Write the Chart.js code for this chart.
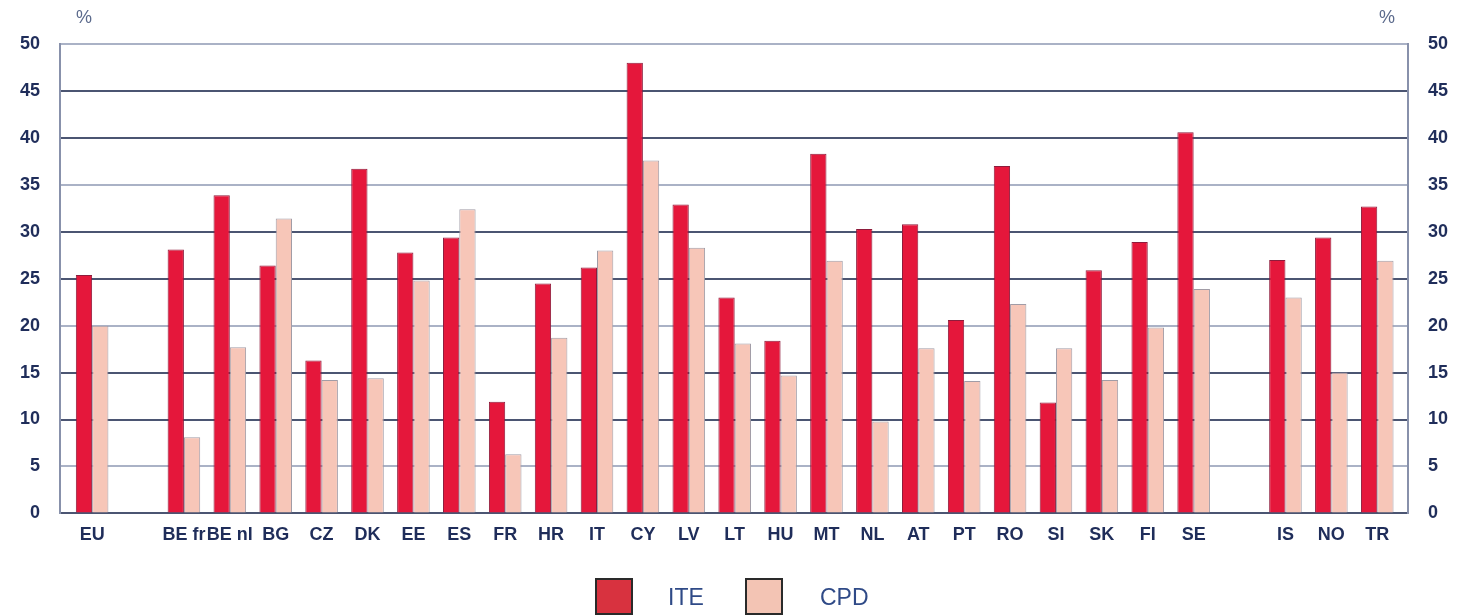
<!DOCTYPE html>
<html>
<head>
<meta charset="utf-8">
<script src="https://cdn.jsdelivr.net/npm/chart.js@4.4.1/dist/chart.umd.min.js"></script>
<style>
  html, body { margin: 0; padding: 0; background: #fff; overflow: hidden; }
  #wrap { position: relative; width: 1461px; height: 616px; }
  #wrap canvas { position: absolute; left: 0; top: 0; }
  .pct { position: absolute; top: 7px; font: 18px 'Liberation Sans', Arial, sans-serif; color: #5b6a8c; }
  .lg-box { position: absolute; top: 578px; width: 34px; height: 33px; border: 2px solid #2a2a2a; }
  .lg-txt { position: absolute; top: 584px; font: 23px 'Liberation Sans', Arial, sans-serif; color: #2f4a87; }
</style>
</head>
<body>
<div id="wrap">
  <canvas id="chart" width="1461" height="616"></canvas>
  <span class="pct" style="left:76px">%</span>
  <span class="pct" style="left:1379px">%</span>
  <div class="lg-box" style="left:595px; background:#d8323f"></div>
  <span class="lg-txt" style="left:668px">ITE</span>
  <div class="lg-box" style="left:745px; background:#f3c4b4"></div>
  <span class="lg-txt" style="left:820px">CPD</span>
</div>
<script>
// categories (empty strings are the gaps between groups)
const countries = ['EU', '', 'BE fr', 'BE nl', 'BG', 'CZ', 'DK', 'EE', 'ES', 'FR', 'HR', 'IT', 'CY', 'LV', 'LT', 'HU',
                   'MT', 'NL', 'AT', 'PT', 'RO', 'SI', 'SK', 'FI', 'SE', '', 'IS', 'NO', 'TR'];
const iteValues = [25.4, null, 28.1, 33.9, 26.4, 16.3, 36.7, 27.8, 29.4, 11.9, 24.5, 26.2, 48.0, 32.9, 23.0, 18.4,
                   38.3, 30.3, 30.8, 20.6, 37.0, 11.8, 25.9, 28.9, 40.6, null, 27.0, 29.4, 32.7];
const cpdValues = [20.0, null, 8.1, 17.7, 31.4, 14.2, 14.4, 24.8, 32.4, 6.3, 18.7, 28.0, 37.6, 28.3, 18.1, 14.7,
                   26.9, 9.8, 17.6, 14.1, 22.3, 17.6, 14.2, 19.8, 23.9, null, 23.0, 15.0, 26.9];
const yMin = 0, yMax = 50, yStep = 5;

const tickFont = { family: "'Liberation Sans', Arial, sans-serif", size: 18, weight: 'bold' };
const tickColor = '#1f2d5a';

// every third gridline (50, 35, 20, 5) is drawn lighter
const gridColor = (ctx) => {
    const v = ctx.tick ? ctx.tick.value : 0;
    return ((yMax - v) / yStep) % 3 === 0 && v !== 0 ? '#aab2c6' : '#4b5572';
};

// bars sit on a numeric x axis (index of the country) so the plot frame can be a bit wider than the bars
const toPoints = (arr) => arr.map((v, i) => ({ x: i, y: v }));

new Chart(document.getElementById('chart').getContext('2d'), {
    type: 'bar',
    data: {
        datasets: [
            { label: 'ITE', data: toPoints(iteValues), backgroundColor: '#e5173b', borderColor: '#8e1c3c', borderWidth: 1, yAxisID: 'y' },
            { label: 'CPD', data: toPoints(cpdValues), backgroundColor: '#f7c6b8', borderColor: '#a19ca6', borderWidth: 1, yAxisID: 'y' }
        ]
    },
    options: {
        responsive: false, animation: false, devicePixelRatio: 1,
        layout: { padding: { top: 44, left: 20, right: 13, bottom: 67 } },
        datasets: { bar: { categoryPercentage: 0.71, barPercentage: 1.0 } },
        scales: {
            x: {
                type: 'linear', min: -0.7, max: countries.length - 0.33, offset: false,
                afterBuildTicks: (scale) => { scale.ticks = countries.map((c, i) => ({ value: i })); },
                grid: { display: false },
                border: { display: true, color: '#4b5572', width: 2 },
                ticks: { color: tickColor, font: tickFont, padding: 3, autoSkip: false, maxRotation: 0,
                         callback: (v) => countries[v] }
            },
            y: {
                position: 'left', min: yMin, max: yMax,
                afterFit: (scale) => { scale.width = 40; },
                grid: { color: gridColor, lineWidth: 2, drawTicks: false },
                border: { display: true, color: '#8891ab', width: 2 },
                ticks: { stepSize: yStep, color: tickColor, font: tickFont, padding: 20 }
            },
            y2: {
                position: 'right', min: yMin, max: yMax,
                afterFit: (scale) => { scale.width = 40; },
                grid: { drawOnChartArea: false, drawTicks: false },
                border: { display: true, color: '#8891ab', width: 2 },
                ticks: { stepSize: yStep, color: tickColor, font: tickFont, padding: 20 }
            }
        },
        plugins: { legend: { display: false }, tooltip: { enabled: false } }
    }
});
</script>
</body>
</html>
